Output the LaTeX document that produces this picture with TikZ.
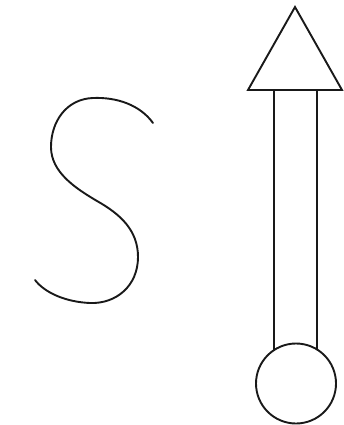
\documentclass[tikz,border=0pt]{standalone}
\begin{document}
\begin{tikzpicture}[x=1pt,y=-1pt,
  ink/.style={draw=black!90,line width=1.9pt,line join=miter,line cap=round}]
\useasboundingbox (0,0) rectangle (344,425);
% S curve
\draw[ink] (153,123) .. controls (140,105) and (117,97) .. (93,98)
  .. controls (66,99) and (51,122) .. (51,147)
  .. controls (51,172) and (75,188) .. (97,201)
  .. controls (120,214) and (138,230) .. (138,257)
  .. controls (138,286) and (116,304) .. (90,303)
  .. controls (66,302) and (45,293) .. (35,280);
% arrow symbol
\coordinate (apex) at (295,7);
\coordinate (bl) at (248,90);
\coordinate (br) at (342,90);
\coordinate (c) at (296,383.5);
\draw[ink] (apex) -- (bl) -- (br) -- cycle;
\draw[ink] (c) circle[radius=40];
\draw[ink] (274,90) -- (274,350);
\draw[ink] (317,90) -- (317,349.5);
\end{tikzpicture}
\end{document}
